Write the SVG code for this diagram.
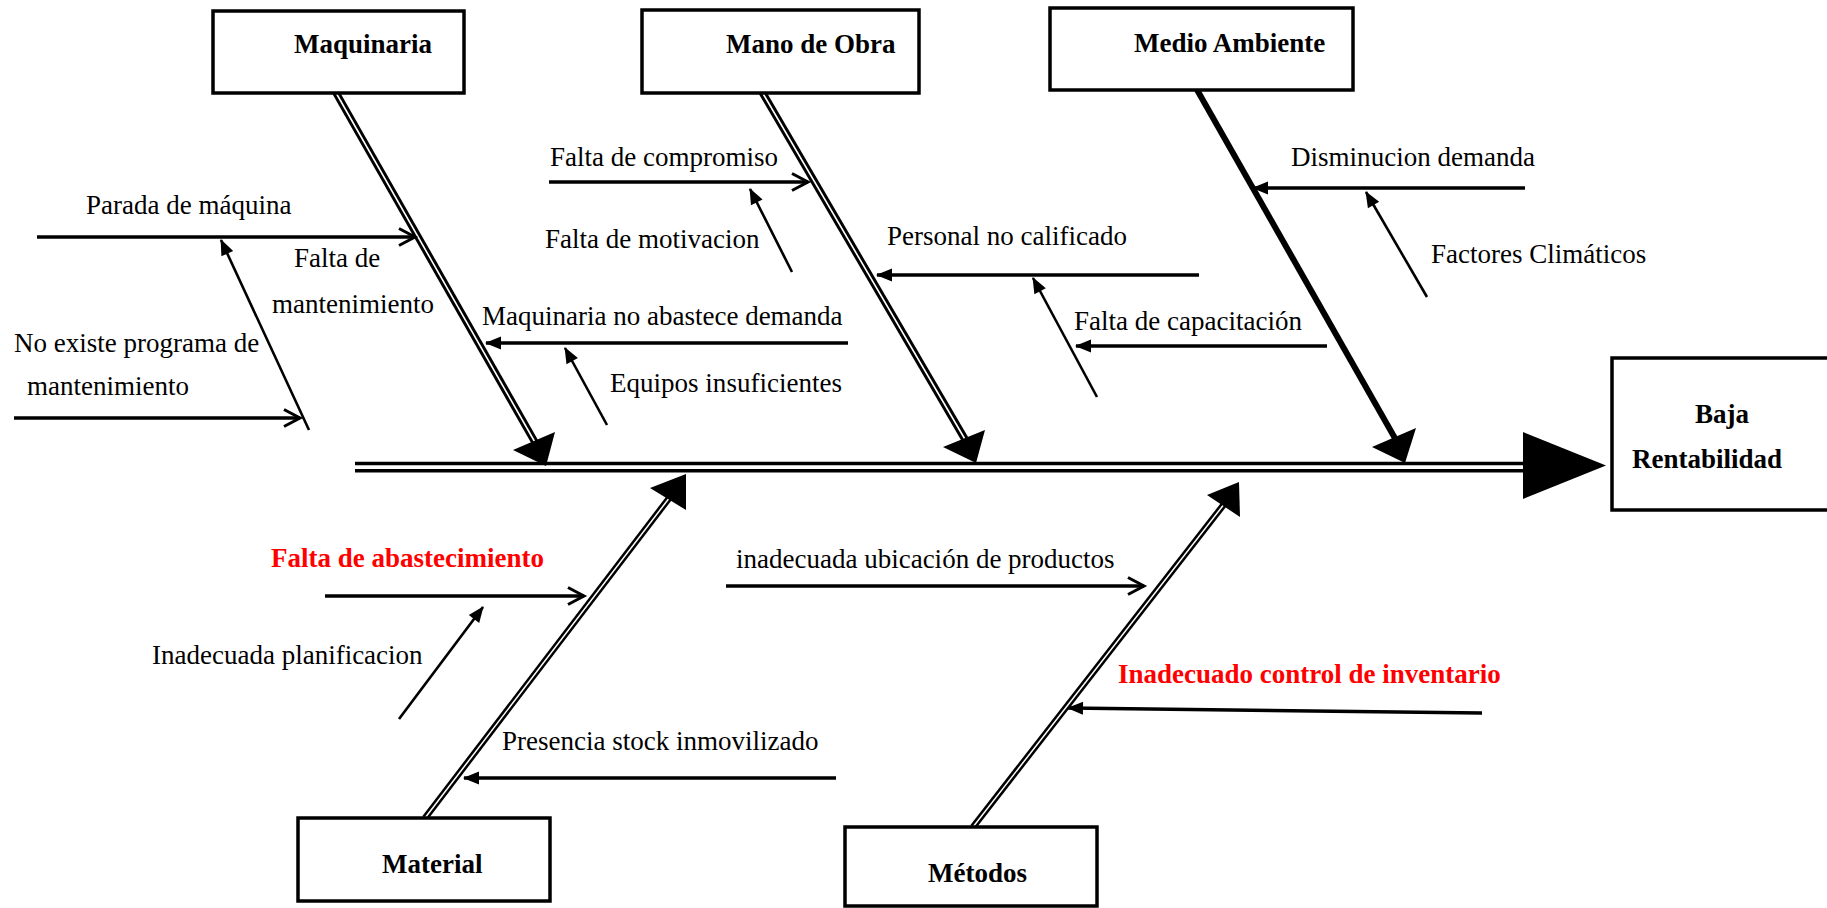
<svg xmlns="http://www.w3.org/2000/svg" width="1827" height="908" viewBox="0 0 1827 908">
<style>
  .box{fill:#fff;stroke:#000;stroke-width:3.5}
  .hdr{font-family:"Liberation Serif","Times New Roman",serif;font-size:27px;font-weight:bold;fill:#000}
  .txt{font-family:"Liberation Serif","Times New Roman",serif;font-size:27px;fill:#000}
  .red{font-family:"Liberation Serif","Times New Roman",serif;font-size:27px;font-weight:bold;fill:#FF0000}
  .cause{fill:none;stroke:#000;stroke-width:3.5}
  .sub{fill:none;stroke:#000;stroke-width:2.6}
  .boneO{fill:none;stroke:#000;stroke-width:7.5}
  .boneI{fill:none;stroke:#fff;stroke-width:1.6}
  .spine{fill:none;stroke:#000;stroke-width:3.5}
</style>
<defs>
  <marker id="chev" markerUnits="userSpaceOnUse" markerWidth="24" markerHeight="24" viewBox="-20 -12 24 24" refX="0" refY="0" orient="auto">
    <path d="M-16,-8.5 L0,0 L-16,8.5" fill="none" stroke="#000" stroke-width="3"/>
  </marker>
  <marker id="tri" markerUnits="userSpaceOnUse" markerWidth="22" markerHeight="18" viewBox="-18 -9 22 18" refX="0" refY="0" orient="auto">
    <path d="M-15,-6.5 L1,0 L-15,6.5 Z" fill="#000"/>
  </marker>
</defs>
<rect width="1827" height="908" fill="#fff"/>

<g id="connectors">
  <!-- spine -->
  <line class="spine" x1="355" y1="463.5" x2="1526" y2="463.5"/>
  <line class="spine" x1="355" y1="470.8" x2="1526" y2="470.8"/>
  <polygon points="1523,432 1606,465.5 1523,499" fill="#000"/>
  <!-- bones -->
  <line class="boneO" x1="335" y1="91" x2="536" y2="444"/>
  <line class="boneI" x1="335" y1="91" x2="536" y2="444"/>
  <polygon points="546,466 513,450 555,432" fill="#000"/>
  <line class="boneO" x1="761.5" y1="91" x2="966" y2="441"/>
  <line class="boneI" x1="761.5" y1="91" x2="966" y2="441"/>
  <polygon points="976,463 943,447 985,430" fill="#000"/>
  <line fill="none" stroke="#000" stroke-width="6" x1="1196" y1="88" x2="1396" y2="440"/>
  <polygon points="1405,463 1372,447 1416,428" fill="#000"/>
  <line class="boneO" style="stroke-width:6.5" x1="425" y1="818" x2="670" y2="497"/>
  <line class="boneI" style="stroke-width:1.5" x1="425" y1="818" x2="670" y2="497"/>
  <polygon points="686,474 650,488 686,510" fill="#000"/>
  <line class="boneO" style="stroke-width:6.5" x1="973" y1="827" x2="1225" y2="503"/>
  <line class="boneI" style="stroke-width:1.5" x1="973" y1="827" x2="1225" y2="503"/>
  <polygon points="1239,482 1207,495 1240,517" fill="#000"/>
  <!-- cause arrows -->
  <line class="cause" x1="37" y1="237" x2="415" y2="237" marker-end="url(#chev)"/>
  <line class="cause" x1="14" y1="418" x2="300" y2="418" marker-end="url(#chev)"/>
  <line class="cause" x1="848" y1="343" x2="486" y2="343" marker-end="url(#tri)"/>
  <line class="cause" x1="549" y1="182" x2="808" y2="182" marker-end="url(#chev)"/>
  <line class="cause" x1="1199" y1="275" x2="877" y2="275" marker-end="url(#tri)"/>
  <line class="cause" x1="1327" y1="346" x2="1076" y2="346" marker-end="url(#tri)"/>
  <line class="cause" x1="1525" y1="188" x2="1253" y2="188" marker-end="url(#tri)"/>
  <line class="cause" x1="325" y1="596" x2="584" y2="596" marker-end="url(#chev)"/>
  <line class="cause" x1="836" y1="778" x2="464" y2="778" marker-end="url(#tri)"/>
  <line class="cause" x1="726" y1="586" x2="1144" y2="586" marker-end="url(#chev)"/>
  <line class="cause" x1="1482" y1="713" x2="1068" y2="708" marker-end="url(#tri)"/>
  <!-- sub-cause arrows -->
  <line class="sub" x1="309" y1="430" x2="221" y2="240" marker-end="url(#tri)"/>
  <line class="sub" x1="607" y1="425" x2="565" y2="348" marker-end="url(#tri)"/>
  <line class="sub" x1="792" y1="272" x2="750" y2="189" marker-end="url(#tri)"/>
  <line class="sub" x1="1097" y1="397" x2="1033" y2="278" marker-end="url(#tri)"/>
  <line class="sub" x1="1427" y1="297" x2="1366" y2="192" marker-end="url(#tri)"/>
  <line class="sub" x1="399" y1="719" x2="483" y2="607" marker-end="url(#tri)"/>
</g>

<g id="maquinaria">
  <rect class="box" x="213" y="11" width="251" height="82"/>
  <text class="hdr" x="294" y="53">Maquinaria</text>
</g>
<g id="mano-de-obra">
  <rect class="box" x="642" y="10" width="277" height="83"/>
  <text class="hdr" x="726" y="53">Mano de Obra</text>
</g>
<g id="medio-ambiente">
  <rect class="box" x="1050" y="8" width="303" height="82"/>
  <text class="hdr" x="1134" y="52">Medio Ambiente</text>
</g>
<g id="baja-rentabilidad">
  <rect class="box" x="1612" y="358" width="218" height="152"/>
  <text class="hdr" x="1695" y="423">Baja</text>
  <text class="hdr" x="1632" y="468">Rentabilidad</text>
</g>
<g id="material">
  <rect class="box" x="298" y="818" width="252" height="83"/>
  <text class="hdr" x="382" y="873">Material</text>
</g>
<g id="metodos">
  <rect class="box" x="845" y="827" width="252" height="79"/>
  <text class="hdr" x="928" y="882">Métodos</text>
</g>

<g id="causes">
  <g id="c-parada"><text class="txt" x="86" y="214">Parada de máquina</text></g>
  <g id="c-falta-mant"><text class="txt" x="294" y="267">Falta de</text><text class="txt" x="272" y="313">mantenimiento</text></g>
  <g id="c-no-existe"><text class="txt" x="14" y="352">No existe programa de</text><text class="txt" x="27" y="395">mantenimiento</text></g>
  <g id="c-maq-no-abastece"><text class="txt" x="482" y="325">Maquinaria no abastece demanda</text></g>
  <g id="c-equipos"><text class="txt" x="610" y="392" textLength="232" lengthAdjust="spacing">Equipos insuficientes</text></g>
  <g id="c-compromiso"><text class="txt" x="550" y="166">Falta de compromiso</text></g>
  <g id="c-motivacion"><text class="txt" x="545" y="248">Falta de motivacion</text></g>
  <g id="c-personal"><text class="txt" x="887" y="245">Personal no calificado</text></g>
  <g id="c-capacitacion"><text class="txt" x="1074" y="330">Falta de capacitación</text></g>
  <g id="c-disminucion"><text class="txt" x="1291" y="166" textLength="244" lengthAdjust="spacing">Disminucion demanda</text></g>
  <g id="c-factores"><text class="txt" x="1431" y="263">Factores Climáticos</text></g>
  <g id="c-abastecimiento"><text class="red" x="271" y="567">Falta de abastecimiento</text></g>
  <g id="c-planificacion"><text class="txt" x="152" y="664">Inadecuada planificacion</text></g>
  <g id="c-stock"><text class="txt" x="502" y="750">Presencia stock inmovilizado</text></g>
  <g id="c-ubicacion"><text class="txt" x="736" y="568">inadecuada ubicación de productos</text></g>
  <g id="c-inventario"><text class="red" x="1118" y="683">Inadecuado control de inventario</text></g>
</g>
</svg>
